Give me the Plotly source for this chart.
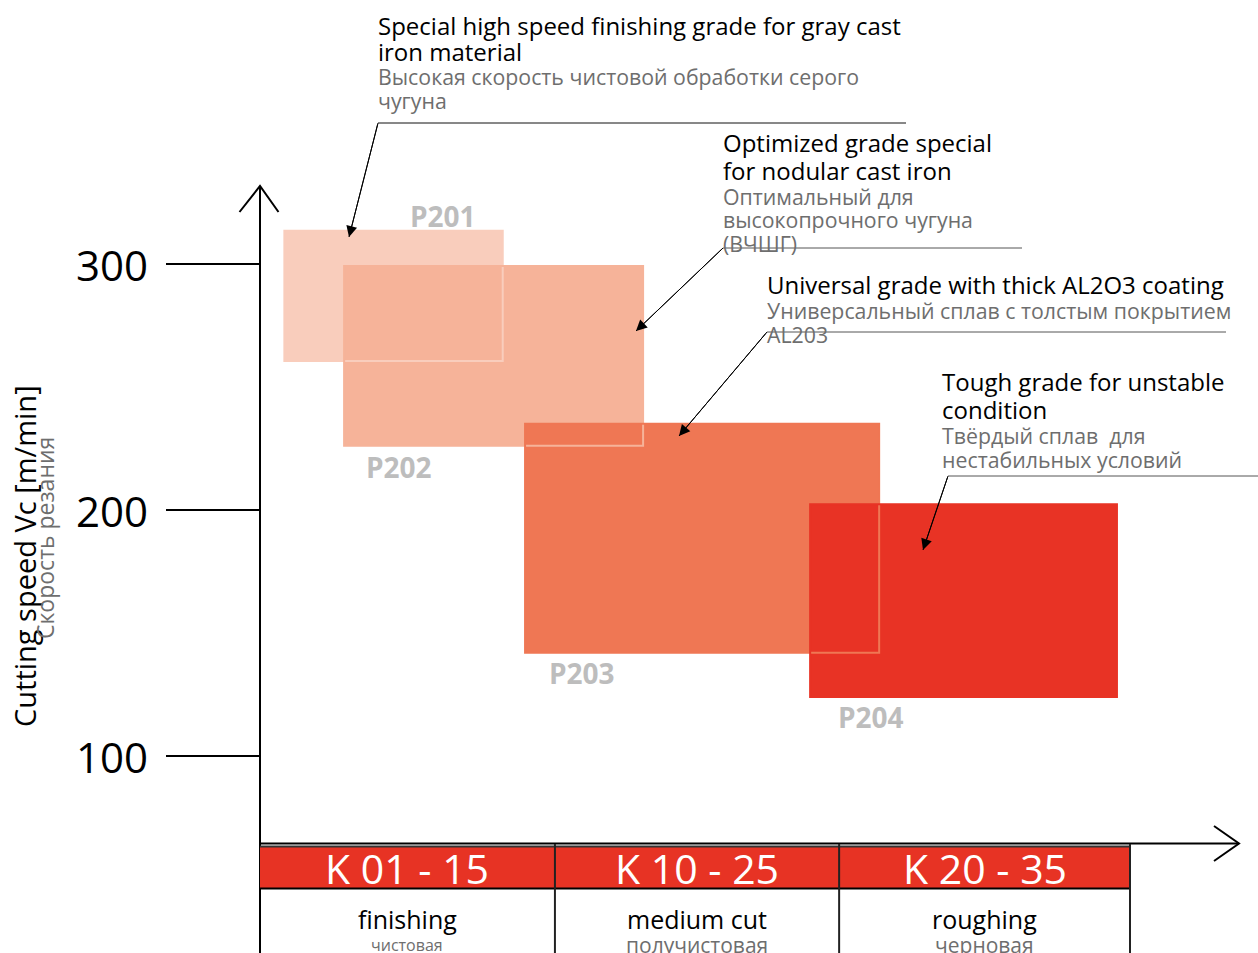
import plotly.graph_objects as go

# ---------------- data ----------------
grades = ["P201", "P202", "P203", "P204"]
vc_low = [260.6, 226.1, 142.0, 124.0]      # m/min
vc_high = [313.5, 299.2, 235.1, 202.3]     # m/min
app_start = [0.084, 0.290, 0.914, 1.897]   # application range (K-class units)
app_end = [0.837, 1.321, 2.135, 2.955]
grade_colors = ["#F9CDBC", "#F6B399", "#EF7754", "#E83325"]

y_ticks = [100, 200, 300]
y_tick_labels = ["100", "200", "300"]

k_bounds = [0.0, 1.017, 1.997, 3.0]
k_labels = ["K 01 - 15", "K 10 - 25", "K 20 - 35"]
k_en = ["finishing", "medium cut", "roughing"]
k_ru = ["чистовая", "получистовая", "черновая"]

notes_en = [
    ["Special high speed finishing grade for gray cast", "iron material"],
    ["Optimized grade special", "for nodular cast iron"],
    ["Universal grade with thick AL2O3 coating"],
    ["Tough grade for unstable", "condition"],
]
notes_ru = [
    ["Высокая скорость чистовой обработки серого", "чугуна"],
    ["Оптимальный для", "высокопрочного чугуна", "(ВЧШГ)"],
    ["Универсальный сплав с толстым покрытием", "AL203"],
    ["Твёрдый сплав  для", "нестабильных условий"],
]

# ---------------- layout helpers ----------------
W, H = 1258, 953
X0_PX, X_UNIT = 260, 290.0      # pixel of x=0 and px per unit
Y0_PX, Y_UNIT = 1002, 2.46      # pixel of y=0 and px per m/min
FONT = "Open Sans"


def px(x):
    return x / W


def py(y):
    return 1 - y / H


def dx(xpix):
    return (xpix - X0_PX) / X_UNIT


def dy(ypix):
    return (Y0_PX - ypix) / Y_UNIT


fig = go.Figure()
shapes = []
ann = []

# grade boxes (fills) then outlines on top
for i, g in enumerate(grades):
    shapes.append(dict(type="rect", xref="x", yref="y", x0=app_start[i], x1=app_end[i],
                       y0=vc_low[i], y1=vc_high[i], fillcolor=grade_colors[i],
                       line=dict(width=0), layer="above"))
for i, g in enumerate(grades):
    shapes.append(dict(type="rect", xref="x", yref="y", x0=app_start[i], x1=app_end[i],
                       y0=vc_low[i], y1=vc_high[i], fillcolor="rgba(0,0,0,0)",
                       line=dict(width=2, color=grade_colors[i]), layer="above"))

# grade labels
label_pos = [(443, 216), (399, 467), (582, 673), (871, 717)]
for g, (lx, ly) in zip(grades, label_pos):
    ann.append(dict(x=dx(lx), y=dy(ly), xref="x", yref="y", text="<b>%s</b>" % g,
                    showarrow=False, font=dict(family=FONT, size=28, color="#BDBDBD"),
                    xanchor="center", yanchor="middle"))

# y axis line + arrow
x_axis_y = dy(843.5)
shapes.append(dict(type="line", xref="x", yref="y", x0=0, x1=0, y0=dy(953), y1=dy(186),
                   line=dict(color="black", width=2)))
shapes.append(dict(type="path", xref="x", yref="y",
                   path="M %f,%f L %f,%f L %f,%f" % (dx(239.5), dy(212), 0, dy(186), dx(278.5), dy(212)),
                   line=dict(color="black", width=2)))
# y ticks
for t, lab in zip(y_ticks, y_tick_labels):
    shapes.append(dict(type="line", xref="x", yref="y", x0=dx(166), x1=0, y0=t, y1=t,
                       line=dict(color="black", width=2)))
    ann.append(dict(x=dx(150), y=t, xref="x", yref="y", text=lab, showarrow=False,
                    xanchor="right", yanchor="middle",
                    font=dict(family=FONT, size=42, color="black")))

# x axis line + arrow
shapes.append(dict(type="line", xref="x", yref="y", x0=0, x1=dx(1239), y0=x_axis_y, y1=x_axis_y,
                   line=dict(color="black", width=2)))
shapes.append(dict(type="path", xref="x", yref="y",
                   path="M %f,%f L %f,%f L %f,%f" % (dx(1214), dy(826), dx(1239), x_axis_y, dx(1214), dy(861)),
                   line=dict(color="black", width=2)))

# axis titles
ann.append(dict(x=px(24), y=py(556), xref="paper", yref="paper", text="Cutting speed Vc [m/min]",
                textangle=-90, showarrow=False, xanchor="center", yanchor="middle",
                font=dict(family=FONT, size=29, color="black")))
ann.append(dict(x=px(45), y=py(538), xref="paper", yref="paper", text="Скорость резания",
                textangle=-90, showarrow=False, xanchor="center", yanchor="middle",
                font=dict(family=FONT, size=23, color="#6E6E6E")))

# K-class table
for i, lab in enumerate(k_labels):
    a, b = k_bounds[i], k_bounds[i + 1]
    shapes.append(dict(type="rect", xref="x", yref="paper", x0=a, x1=b, y0=py(888), y1=py(847),
                       fillcolor="#E73324", line=dict(width=0), layer="above"))
    ann.append(dict(x=(a + b) / 2, y=py(868), xref="x", yref="paper", text=lab, showarrow=False,
                    xanchor="center", yanchor="middle",
                    font=dict(family=FONT, size=41, color="white")))
    ann.append(dict(x=(a + b) / 2, y=py(919), xref="x", yref="paper", text=k_en[i], showarrow=False,
                    xanchor="center", yanchor="middle",
                    font=dict(family=FONT, size=25, color="black")))
    ann.append(dict(x=(a + b) / 2, y=py(945), xref="x", yref="paper", text=k_ru[i], showarrow=False,
                    xanchor="center", yanchor="middle",
                    font=dict(family=FONT, size=16 if i == 0 else 21, color="#6E6E6E")))
shapes.append(dict(type="line", xref="x", yref="paper", x0=k_bounds[0], x1=k_bounds[-1],
                   y0=py(846.5), y1=py(846.5), line=dict(color="#333333", width=2)))
shapes.append(dict(type="line", xref="x", yref="paper", x0=k_bounds[0], x1=k_bounds[-1],
                   y0=py(888.5), y1=py(888.5), line=dict(color="black", width=2)))
for b in k_bounds[1:]:
    shapes.append(dict(type="line", xref="x", yref="paper", x0=b, x1=b, y0=py(844), y1=py(953),
                       line=dict(color="#222222", width=2)))

# callouts
note_x = [376, 721, 765, 940]
note_en_y = [[26, 51], [143, 171], [285], [382, 409]]
note_ru_y = [[76, 100], [196, 220, 243], [310, 334], [435, 459]]
leader_h = [(378, 906, 123), (723, 1022, 248), (767, 1226, 332), (948, 1258, 476)]
tips = [(349, 237), (636, 331), (679, 436), (923, 550)]
for i in range(4):
    for t, yy in zip(notes_en[i], note_en_y[i]):
        ann.append(dict(x=px(note_x[i]), y=py(yy), xref="paper", yref="paper", text=t,
                        showarrow=False, xanchor="left", yanchor="middle",
                        font=dict(family=FONT, size=24, color="black")))
    for t, yy in zip(notes_ru[i], note_ru_y[i]):
        ann.append(dict(x=px(note_x[i]), y=py(yy), xref="paper", yref="paper", text=t,
                        showarrow=False, xanchor="left", yanchor="middle",
                        font=dict(family=FONT, size=21.3, color="#6E6E6E")))
    x0, x1, yl = leader_h[i]
    shapes.append(dict(type="line", xref="paper", yref="paper", x0=px(x0), x1=px(x1),
                       y0=py(yl), y1=py(yl), line=dict(color="#111111" if i == 0 else "#555555", width=1)))
    tx, ty = tips[i]
    shapes.append(dict(type="line", xref="paper", yref="paper", x0=px(x0), y0=py(yl),
                       x1=px(tx), y1=py(ty), line=dict(color="black", width=1)))
    ann.append(dict(x=px(tx), y=py(ty), xref="paper", yref="paper", text="",
                    showarrow=True, ax=(x0 - tx), ay=(yl - ty), axref="pixel", ayref="pixel",
                    arrowhead=2, arrowsize=2.2, arrowwidth=1, arrowcolor="black", standoff=0))

fig.update_layout(
    width=W, height=H, margin=dict(l=0, r=0, t=0, b=0),
    paper_bgcolor="white", plot_bgcolor="white", showlegend=False,
    xaxis=dict(range=[dx(0), dx(W)], visible=False, fixedrange=True),
    yaxis=dict(range=[dy(H), dy(0)], visible=False, fixedrange=True),
    shapes=shapes, annotations=ann,
)
fig.write_html("out.html")
